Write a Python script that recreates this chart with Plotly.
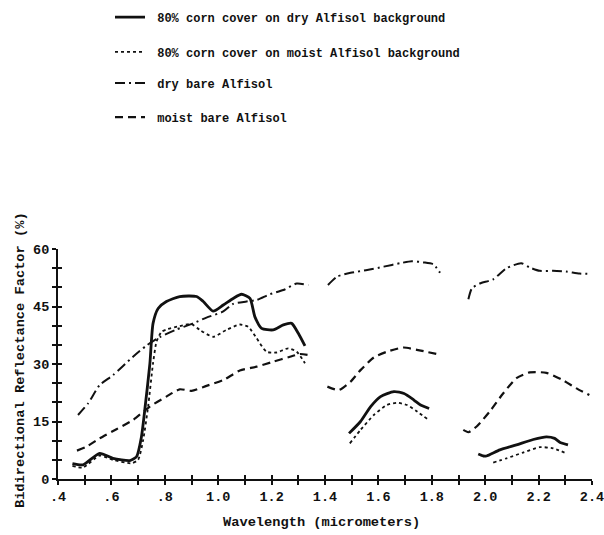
import plotly.graph_objects as go

# ---- data ----
N = None
corn_dry_x = [0.454, 0.494, 0.556, 0.606, 0.669, 0.694, 0.7125, 0.725, 0.744, 0.756, 0.775, 0.806, 0.856, 0.919,
              0.944, 0.981, 1.019, 1.056, 1.0875, 1.119, 1.1375, 1.1625, 1.206, 1.244, 1.275, 1.30, 1.325,
              N,
              1.49, 1.533, 1.571, 1.608, 1.658, 1.696, 1.733, 1.758, 1.79,
              N,
              1.974, 1.993, 2.005, 2.055, 2.117, 2.18, 2.229, 2.26, 2.279, 2.31]
corn_dry_y = [4.0, 3.7, 6.7, 5.4, 4.8, 5.8, 11.0, 18.0, 30.0, 40.6, 44.5, 46.3, 47.6, 47.6,
              46.3, 43.8, 45.4, 47.1, 48.2, 47.1, 42.3, 39.3, 38.9, 40.2, 40.6, 38.0, 34.7,
              N,
              11.9, 15.0, 18.9, 21.5, 22.8, 22.3, 20.6, 19.3, 18.4,
              N,
              6.5, 6.0, 6.0, 7.6, 8.9, 10.3, 11.0, 10.6, 9.6, 8.9]

corn_moist_x = [0.454, 0.494, 0.556, 0.606, 0.675, 0.70, 0.719, 0.7375, 0.756, 0.769, 0.7875, 0.806, 0.856, 0.90,
                0.931, 0.981, 1.031, 1.081, 1.1125, 1.144, 1.181, 1.219, 1.2625, 1.294, 1.325,
                N,
                1.493, 1.533, 1.583, 1.632, 1.67, 1.707, 1.745, 1.788,
                N,
                2.03, 2.08, 2.142, 2.204, 2.254, 2.297]
corn_moist_y = [3.4, 3.0, 6.1, 5.0, 4.1, 5.0, 10.2, 18.9, 30.2, 35.8, 38.4, 39.0, 39.9, 40.4,
                38.9, 37.1, 38.9, 40.3, 39.7, 36.7, 33.2, 33.0, 34.1, 33.2, 30.2,
                N,
                9.3, 12.8, 16.7, 19.3, 19.9, 19.3, 17.6, 15.4,
                N,
                4.3, 5.4, 6.9, 8.3, 8.0, 6.9]

dry_bare_x = [0.475, 0.5125, 0.556, 0.606, 0.681, 0.731, 0.781, 0.844, 0.906, 0.956, 1.019, 1.056, 1.106, 1.144,
              1.194, 1.244, 1.294, 1.3375,
              N,
              1.411, 1.446, 1.496, 1.558, 1.62, 1.682, 1.725, 1.769, 1.806, 1.831,
              N,
              1.937, 1.95, 1.98, 2.03, 2.08, 2.135, 2.166, 2.204, 2.254, 2.303, 2.353, 2.396]
dry_bare_y = [16.7, 19.7, 24.5, 27.1, 31.9, 34.8, 37.0, 39.0, 40.6, 42.1, 43.7, 45.7, 46.3, 46.7,
              48.2, 49.3, 51.0, 50.6,
              N,
              50.6, 52.8, 53.8, 54.5, 55.4, 56.3, 56.8, 56.5, 56.0, 53.8,
              N,
              46.9, 49.7, 51.0, 52.1, 55.0, 56.3, 55.2, 54.3, 54.3, 54.1, 53.6, 53.5]

moist_bare_x = [0.471, 0.506, 0.556, 0.619, 0.681, 0.744, 0.806, 0.856, 0.90, 0.956, 1.019, 1.081, 1.144, 1.206,
                1.269, 1.306, 1.344,
                N,
                1.409, 1.452, 1.496, 1.533, 1.583, 1.632, 1.694, 1.744, 1.819,
                N,
                1.918, 1.937, 1.968, 2.017, 2.067, 2.117, 2.166, 2.229, 2.29, 2.34, 2.39]
moist_bare_y = [7.4, 8.4, 10.6, 13.0, 15.4, 18.9, 21.5, 23.4, 23.0, 24.3, 25.8, 28.3, 29.3, 30.6,
                31.9, 32.6, 32.3,
                N,
                24.1, 23.2, 25.4, 28.4, 31.7, 33.2, 34.3, 33.7, 32.6,
                N,
                12.8, 12.2, 13.7, 17.6, 22.3, 26.3, 27.8, 27.7, 25.8, 23.7, 21.9]

series_names = ["80% corn cover on dry Alfisol background",
                "80% corn cover on moist Alfisol background",
                "dry bare Alfisol",
                "moist bare Alfisol"]

x_tickvals = [0.4, 0.5, 0.6, 0.7, 0.8, 0.9, 1.0, 1.1, 1.2, 1.3, 1.4, 1.5, 1.6, 1.7, 1.8, 1.9, 2.0, 2.1, 2.2, 2.3, 2.4]
x_ticktext = [".4", "", ".6", "", ".8", "", "1.0", "", "1.2", "", "1.4", "", "1.6", "", "1.8", "", "2.0", "", "2.2", "", "2.4"]
y_tickvals = [0, 5, 10, 15, 20, 25, 30, 35, 40, 45, 50, 55, 60]
y_ticktext = ["0", "", "", "15", "", "", "30", "", "", "45", "", "", "60"]

x_title = "Wavelength (micrometers)"
y_title = "Bidirectional Reflectance Factor (%)"

FONT = "Liberation Mono"
INK = "#111111"

fig = go.Figure()
styles = [
    dict(width=2.8, dash="solid"),
    dict(width=1.8, dash="dot"),
    dict(width=2.0, dash="10px,4px,2px,4px"),
    dict(width=2.2, dash="8px,5px"),
]
legend_ids = ["legend", "legend2", "legend3", "legend4"]
legend_rows_y = [0.968, 0.903, 0.845, 0.781]   # container-fraction y of each legend row

data = [(corn_dry_x, corn_dry_y), (corn_moist_x, corn_moist_y), (dry_bare_x, dry_bare_y), (moist_bare_x, moist_bare_y)]
for i, ((xs, ys), name, st) in enumerate(zip(data, series_names, styles)):
    fig.add_trace(go.Scatter(
        x=xs, y=ys, mode="lines", name=" " + name, legend=legend_ids[i],
        line=dict(color=INK, width=st["width"], dash=st["dash"], shape="spline", smoothing=0.6),
        connectgaps=False, hoverinfo="skip",
    ))

# invisible trace to carry the inside-tick overlay axes
fig.add_trace(go.Scatter(x=[0.4], y=[0], mode="none", xaxis="x2", yaxis="y2",
                         showlegend=False, hoverinfo="skip"))

tickfont = dict(family=FONT, size=13.5, color=INK, weight="bold")
common = dict(automargin=False, showgrid=False, zeroline=False, fixedrange=True,
              tickmode="array", tickwidth=2, tickcolor=INK, ticklen=4)

legend_style = dict(x=110 / 604, xref="container", yref="container",
                    xanchor="left", yanchor="middle",
                    font=dict(family=FONT, size=12, color=INK, weight="bold"),
                    itemwidth=30, bgcolor="rgba(0,0,0,0)", borderwidth=0)
legends = {lid: dict(y=ly, **legend_style) for lid, ly in zip(legend_ids, legend_rows_y)}

fig.update_layout(
    width=604, height=535,
    margin=dict(l=58, r=12, t=249, b=56, autoexpand=False),
    paper_bgcolor="white", plot_bgcolor="white",
    showlegend=True,
    **legends,
    xaxis=dict(range=[0.4, 2.4], tickvals=x_tickvals, ticktext=x_ticktext, ticks="outside",
               showline=True, linewidth=2, linecolor=INK, tickfont=tickfont,
               ticklabeloverflow="allow", **common),
    yaxis=dict(range=[0, 60], tickvals=y_tickvals, ticktext=y_ticktext, ticks="outside",
               showline=True, linewidth=2, linecolor=INK, tickfont=tickfont,
               ticklabeloverflow="allow", **common),
    xaxis2=dict(range=[0.4, 2.4], overlaying="x", anchor="y", side="bottom",
                tickvals=x_tickvals, showticklabels=False, ticks="inside", showline=False, **common),
    yaxis2=dict(range=[0, 60], overlaying="y", anchor="x", side="left",
                tickvals=y_tickvals, showticklabels=False, ticks="inside", showline=False, **common),
    annotations=[
        dict(text=x_title, xref="paper", yref="paper", x=0.494, y=-0.19,
             xanchor="center", yanchor="middle", showarrow=False,
             font=dict(family=FONT, size=13.7, color=INK, weight="bold")),
        dict(text=y_title, xref="paper", yref="paper", x=-0.0712, y=0.517, textangle=-90,
             xanchor="center", yanchor="middle", showarrow=False,
             font=dict(family=FONT, size=13.7, color=INK, weight="bold")),
    ],
)

fig.write_html("out.html", config={"displayModeBar": False},
               post_script="document.body.style.margin='0';")
